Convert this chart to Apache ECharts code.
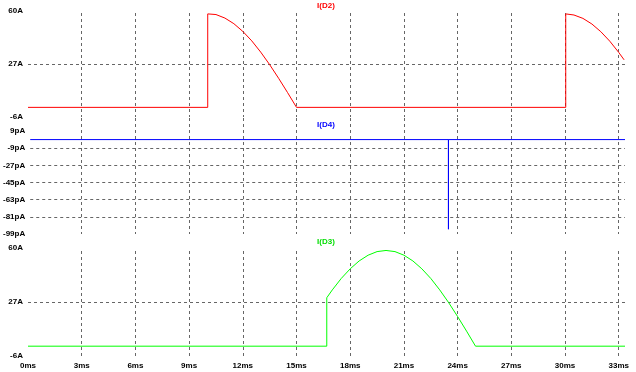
<!DOCTYPE html>
<html>
<head>
<meta charset="utf-8">
<script src="https://cdn.jsdelivr.net/npm/echarts@6/dist/echarts.min.js"></script>
<style>html,body{margin:0;padding:0;background:#fff}#c{width:636px;height:372px}</style>
</head>
<body>
<div id="c"></div>
<script>
// ---- data (time in ms) ----
var traceNames = ['I(D2)', 'I(D4)', 'I(D3)'];
var traceColors = ['#ff0000', '#0000ff', '#00ff00'];
var xTickStep = 3;
var xMax = 33.35;
var ampTicks = [-6, 27, 60];
var pAmpTicks = [-99, -81, -63, -45, -27, -9, 9];

var id2Time = [0, 10.04, 10.04, 10.5, 11, 11.5, 12, 12.5, 13, 13.5, 14, 14.5, 15.0, 30.04, 30.04, 30.5, 31, 31.5, 32, 32.5, 33, 33.3];
var id2Amp  = [0, 0, 58.2, 57.8, 55.6, 52.1, 47.3, 41.4, 34.4, 26.6, 18.1, 9.2, 0, 0, 58.2, 57.5, 55.4, 51.9, 47.1, 41.2, 34.2, 29.6];

var id4Time = [0, 23.45, 23.45, 23.45, 33.35];
var id4pA   = [0, 0, -94, 0, 0];

var id3Time = [0, 16.69, 16.69, 17, 17.5, 18, 18.5, 19, 19.5, 20, 20.5, 21, 21.5, 22, 22.5, 23, 23.5, 24, 24.5, 25.0, 33.35];
var id3Amp  = [0, 0, 29.6, 34.4, 41.4, 47.3, 52.1, 55.6, 57.8, 58.5, 57.8, 55.6, 52.1, 47.3, 41.4, 34.4, 26.6, 18.1, 9.2, 0, 0];

function pairs(t, v) { return t.map(function (x, i) { return [x, v[i]]; }); }

var FONT = 'Liberation Sans';
var dash = { show: true, showMinLine: false, showMaxLine: false, lineStyle: { color: '#666', type: [3, 3], width: 1 } };

// data grids
var grids = [
  { left: 28, width: 597, top: 11, height: 106 },
  { left: 28, width: 597, top: 131, height: 103 },
  { left: 28, width: 597, top: 248, height: 108 },
  // grids used only for the vertical grid lines
  { left: 28, width: 597, top: 13, height: 104 },
  { left: 28, width: 597, top: 118, height: 116 },
  { left: 28, width: 597, top: 251, height: 105 }
];

function xAx(i, showLabels, showSplit) {
  return {
    type: 'value', gridIndex: i, min: 0, max: xMax, interval: xTickStep,
    axisLine: { show: false }, axisTick: { show: false },
    splitLine: showSplit ? dash : { show: false },
    axisLabel: {
      show: showLabels, margin: 6, color: '#000', fontFamily: FONT, fontWeight: 'bold', fontSize: 8,
      showMaxLabel: false,
      formatter: function (v) { return Math.abs(v - Math.round(v / 3) * 3) > 0.01 ? '' : Math.round(v) + 'ms'; }
    }
  };
}
function yAx(i, min, max, interval, unit, show) {
  return {
    type: 'value', gridIndex: i, min: min, max: max, interval: interval, show: show !== false,
    axisLine: { show: false }, axisTick: { show: false },
    splitLine: dash,
    axisLabel: {
      margin: 5, color: '#000', fontFamily: FONT, fontWeight: 'bold', fontSize: 8,
      formatter: function (v) { return v + unit; }
    }
  };
}

var option = {
  animation: false,
  backgroundColor: '#fff',
  grid: grids,
  xAxis: [xAx(0, false, false), xAx(1, false, false), xAx(2, true, false),
          xAx(3, false, true), xAx(4, false, true), xAx(5, false, true)],
  yAxis: [yAx(0, ampTicks[0], ampTicks[2], 33, 'A'),
          yAx(1, pAmpTicks[0], pAmpTicks[6], 18, 'pA'),
          yAx(2, ampTicks[0], ampTicks[2], 33, 'A'),
          { type: 'value', gridIndex: 3, show: false, min: 0, max: 1 },
          { type: 'value', gridIndex: 4, show: false, min: 0, max: 1 },
          { type: 'value', gridIndex: 5, show: false, min: 0, max: 1 }],
  graphic: [
    { type: 'text', x: 326, y: 6, style: { text: traceNames[0], fill: traceColors[0], font: 'bold 8px ' + FONT, align: 'center', verticalAlign: 'middle' } },
    { type: 'text', x: 326, y: 124.5, style: { text: traceNames[1], fill: traceColors[1], font: 'bold 8px ' + FONT, align: 'center', verticalAlign: 'middle' } },
    { type: 'text', x: 326, y: 241.5, style: { text: traceNames[2], fill: '#00dd00', font: 'bold 8px ' + FONT, align: 'center', verticalAlign: 'middle' } }
  ],
  series: [
    { type: 'line', xAxisIndex: 0, yAxisIndex: 0, data: pairs(id2Time, id2Amp), showSymbol: false, lineStyle: { color: traceColors[0], width: 1 }, itemStyle: { color: traceColors[0] }, z: 5 },
    { type: 'line', xAxisIndex: 1, yAxisIndex: 1, data: pairs(id4Time, id4pA), showSymbol: false, lineStyle: { color: traceColors[1], width: 1 }, itemStyle: { color: traceColors[1] }, z: 5 },
    { type: 'line', xAxisIndex: 2, yAxisIndex: 2, data: pairs(id3Time, id3Amp), showSymbol: false, lineStyle: { color: traceColors[2], width: 1 }, itemStyle: { color: traceColors[2] }, z: 5 }
  ]
};
echarts.init(document.getElementById('c'), null, { renderer: 'canvas' }).setOption(option);
</script>
</body>
</html>
